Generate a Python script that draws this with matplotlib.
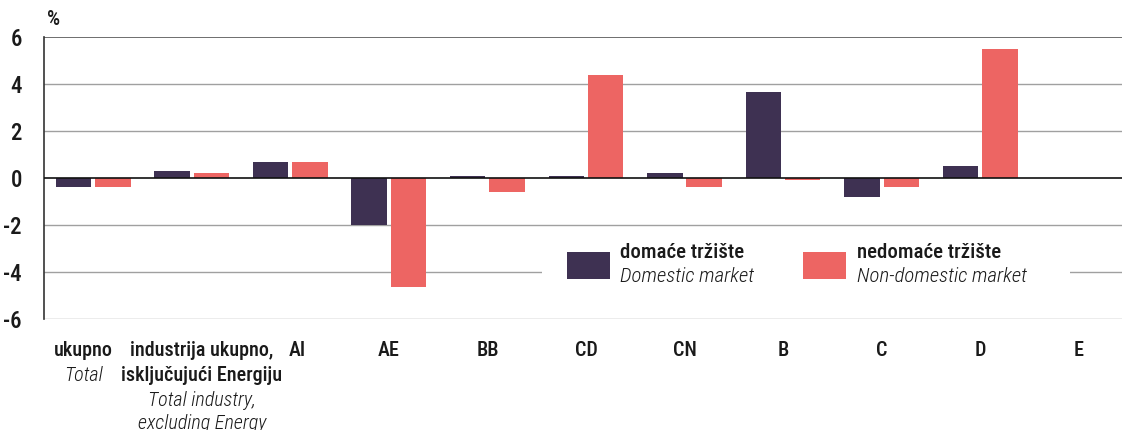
import matplotlib
matplotlib.use("Agg")
import matplotlib.pyplot as plt
from matplotlib import font_manager
from matplotlib.patches import Rectangle

# ---- data ----
categories = ["ukupno", "industrija ukupno,", "AI", "AE", "BB", "CD", "CN", "B", "C", "D", "E"]
extra_bold = {1: ["isključujući Energiju"]}
extra_italic = {0: ["Total"], 1: ["Total industry,", "excluding Energy"]}
domestic = [-0.4, 0.3, 0.7, -2.0, 0.1, 0.1, 0.2, 3.65, -0.8, 0.5, 0.0]
non_domestic = [-0.4, 0.2, 0.7, -4.65, -0.6, 4.4, -0.4, -0.1, -0.4, 5.5, 0.0]
yticks = [-6, -4, -2, 0, 2, 4, 6]
legend_bold = ["domaće tržište", "nedomaće tržište"]
legend_italic = ["Domestic market", "Non-domestic market"]

# ---- style ----
avail = {f.name for f in font_manager.fontManager.ttflist}
family = "DejaVu Sans"
for cand in ["Roboto Condensed", "Liberation Sans Narrow", "DejaVu Sans Condensed", "Liberation Sans"]:
    if cand in avail:
        family = cand
        break
plt.rcParams["font.family"] = [family, "DejaVu Sans"]

c_dom = "#3E3152"
c_non = "#ED6563"
txt = "#1a1a1a"
FS = 14.5
BW = "medium"

fig = plt.figure(figsize=(11.22, 4.30), dpi=100)
ax = fig.add_axes([44 / 1122, 1 - 319 / 430, 1 - 44 / 1122, (319 - 37) / 430])

x = list(range(len(categories)))
w = 0.36
off = 0.2
ax.bar([i - off for i in x], domestic, width=w, color=c_dom, zorder=3)
ax.bar([i + off for i in x], non_domestic, width=w, color=c_non, zorder=3)

ax.set_xlim(-0.5, 10.44)
ax.set_ylim(-6, 6)
ax.set_yticks(yticks)
ax.set_yticklabels([str(v) for v in yticks], fontsize=16.5, color=txt, fontweight=BW)
ax.tick_params(axis="y", length=0, pad=16)
ax.set_xticks([])

for v in yticks:
    if v == 0:
        ax.axhline(v, color="#111111", lw=1.2, zorder=4)
    elif v == 6:
        ax.axhline(v, color="#555555", lw=1.2, zorder=1)
    else:
        ax.axhline(v, color="#a0a0a0", lw=1.0, zorder=1)

for s in ["top", "right", "bottom"]:
    ax.spines[s].set_visible(False)
ax.spines["left"].set_color("#333333")
ax.spines["left"].set_linewidth(1.2)

# ---- category labels ----
label_dx = {0: -9.5, 1: 10, 2: 7}
baselines = [37, 62, 87, 110]
for i, name in enumerate(categories):
    lines = [(name, BW, "normal")]
    for t in extra_bold.get(i, []):
        lines.append((t, BW, "normal"))
    for t in extra_italic.get(i, []):
        lines.append((t, "light", "italic"))
    for k, (t, wt, st) in enumerate(lines):
        ax.annotate(t, xy=(i, 0), xycoords=("data", "axes fraction"),
                    xytext=(label_dx.get(i, 0), -baselines[k]), textcoords="offset pixels",
                    ha="center", va="baseline", fontsize=FS, fontweight=wt,
                    fontstyle=st, color=txt, annotation_clip=False)

fig.text(47 / 1122, 1 - 25 / 430, "%", fontsize=15, fontweight=BW, color=txt,
         ha="left", va="baseline")

# ---- legend (manual) ----
def px(xp, yp):
    return xp / 1122, 1 - yp / 430

bx, by = px(542, 292)
fig.patches.append(Rectangle((bx, by), (1070 - 542) / 1122, (292 - 238) / 430,
                             transform=fig.transFigure, facecolor="white",
                             edgecolor="none", zorder=5))
for (sx, tx), col, b, it in zip([(567, 620), (803, 857)], [c_dom, c_non], legend_bold, legend_italic):
    rx, ry = px(sx, 279)
    fig.patches.append(Rectangle((rx, ry), 43 / 1122, 27 / 430, transform=fig.transFigure,
                                 facecolor=col, edgecolor="none", zorder=6))
    fig.text(*px(tx, 258), b, fontsize=15, fontweight=BW, color=txt,
             ha="left", va="baseline", zorder=7)
    fig.text(*px(tx, 282), it, fontsize=15, fontweight="light", fontstyle="italic", color=txt,
             ha="left", va="baseline", zorder=7)

fig.savefig("out.png", dpi=100)
